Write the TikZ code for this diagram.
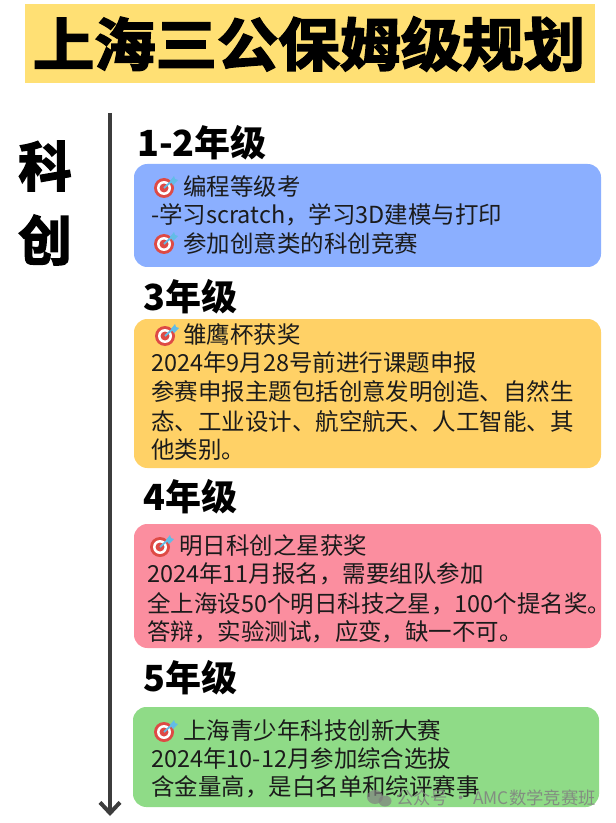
\documentclass[tikz,border=0pt]{standalone}
\usepackage{fontspec}
\usepackage{xcolor}
\usetikzlibrary{arrows.meta}
\setmainfont{Noto Sans CJK SC}
\newfontfamily\heavyfont[FakeBold=3]{Noto Sans CJK SC Bold}
\definecolor{titleyellow}{HTML}{FFE074}
\definecolor{boxblue}{HTML}{8BAFFF}
\definecolor{boxorange}{HTML}{FFD166}
\definecolor{boxpink}{HTML}{FB8E9F}
\definecolor{boxgreen}{HTML}{8FDB87}
\definecolor{inkblack}{HTML}{1B1B1B}
\definecolor{axisgray}{HTML}{3C3C3C}
\definecolor{dartred}{HTML}{DE4A45}
\definecolor{dartblue}{HTML}{62BCE6}
\tikzset{
  gradehead/.style={anchor=west, inner sep=0pt, text=black, font=\fontsize{27}{30}\selectfont\bfseries},
  sidehead/.style={inner sep=0pt, text=black, font=\fontsize{40}{44}\heavyfont},
  bodyline/.style={anchor=west, inner sep=0pt, text=inkblack, font=\fontsize{17.6}{20}\selectfont},
  gradebox/.style={draw=none, rounded corners=10pt},
  dartmark/.pic={
    \fill[dartred] (-1,1) circle (10);
    \fill[white] (-1,1) circle (7);
    \fill[dartred] (-1,1) circle (4.5);
    \draw[line width=1.4pt, dartblue] (-1,1) -- (9,-8);
    \fill[dartblue] (5,-6) -- (9,-11) -- (10,-8) -- (13,-7) -- (8,-2) -- cycle;
  }
}
\begin{document}
\begin{tikzpicture}[x=.75pt, y=-.75pt]
  \useasboundingbox (0,0) rectangle (615,823);

  \fill[titleyellow] (25,4) rectangle (595,83);
  \node[inner sep=0pt, xscale=1.07, text=black, font=\fontsize{43}{48}\heavyfont] (title) at (309,44) {上海三公保姆级规划};

  \coordinate (axistop) at (110,113);
  \coordinate (axisend) at (110,816);
  \draw[axisgray, line width=3pt, -{Straight Barb[length=8pt, width=15pt, line width=3pt]}] (axistop) -- (axisend);

  \node[sidehead] (sidea) at (45,166) {科};
  \node[sidehead] (sideb) at (45,240) {创};

  \node[gradehead] (gradea) at (137,143) {1-2年级};
  \fill[boxblue, gradebox] (134,164) rectangle (601,267);
  \pic at (165,187) {dartmark};
  \node[bodyline] (blueone) at (183,187) {编程等级考};
  \node[bodyline] (bluetwo) at (151,215) {-学习scratch，学习3D建模与打印};
  \pic at (165,243) {dartmark};
  \node[bodyline] (bluethree) at (183,244) {参加创意类的科创竞赛};

  \node[gradehead] (gradeb) at (143,297) {3年级};
  \fill[boxorange, gradebox] (134,319) rectangle (601,468);
  \pic at (166,335) {dartmark};
  \node[bodyline] (orangeone) at (183,335) {雏鹰杯获奖};
  \node[bodyline] (orangetwo) at (151,363) {2024年9月28号前进行课题申报};
  \node[bodyline] (orangethree) at (151,392) {参赛申报主题包括创意发明创造、自然生};
  \node[bodyline] (orangefour) at (151,422) {态、工业设计、航空航天、人工智能、其};
  \node[bodyline] (orangefive) at (151,450) {他类别。};

  \node[gradehead] (gradec) at (143,497) {4年级};
  \fill[boxpink, gradebox] (134,524) rectangle (601,648);
  \pic at (161,546) {dartmark};
  \node[bodyline] (pinkone) at (179,546) {明日科创之星获奖};
  \node[bodyline] (pinktwo) at (147,574) {2024年11月报名，需要组队参加};
  \node[bodyline] (pinkthree) at (147,604) {全上海设50个明日科技之星，100个提名奖。};
  \node[bodyline] (pinkfour) at (147,632) {答辩，实验测试，应变，缺一不可。};

  \node[gradehead] (graded) at (143,678) {5年级};
  \fill[boxgreen, gradebox] (133,707) rectangle (599,807);
  \pic at (165,731) {dartmark};
  \node[bodyline] (greenone) at (183,731) {上海青少年科技创新大赛};
  \node[bodyline] (greentwo) at (151,759) {2024年10-12月参加综合选拔};
  \node[bodyline] (greenthree) at (151,787) {含金量高，是白名单和综评赛事};

  \fill[gray, opacity=.7] (375,797) ellipse (8 and 7);
  \fill[gray, opacity=.7] (385,801) ellipse (6.5 and 5.5);
  \node[anchor=west, inner sep=0pt, text=gray, opacity=.85, font=\fontsize{13}{15}\selectfont] (mark) at (396,798) {公众号 · AMC数学竞赛班};
\end{tikzpicture}
\end{document}
